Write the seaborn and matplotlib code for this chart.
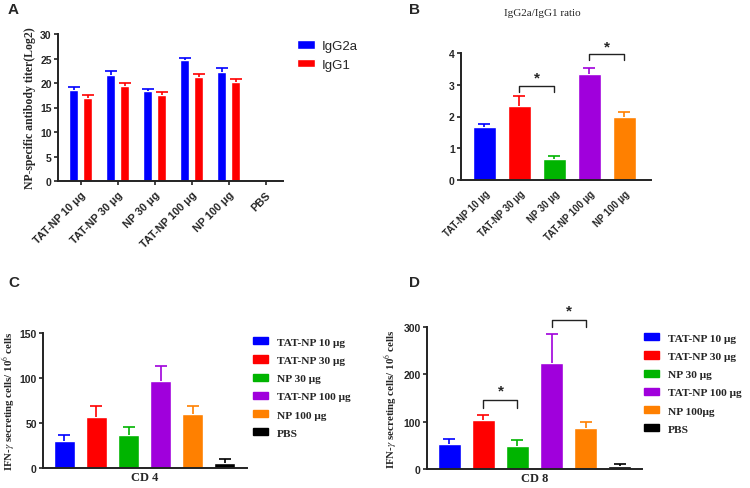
import numpy as np
import pandas as pd
import seaborn as sns
import matplotlib.pyplot as plt
from matplotlib.patches import Patch

# ---- data ----
groups = ["TAT-NP 10 μg", "TAT-NP 30 μg", "NP 30 μg", "TAT-NP 100 μg", "NP 100 μg", "PBS"]
igg2a = [18.5, 21.7, 18.3, 24.6, 22.3, 0]
igg2a_err = [0.7, 0.7, 0.5, 0.5, 0.7, 0]
igg1 = [17.0, 19.3, 17.6, 21.3, 20.3, 0]
igg1_err = [0.6, 0.7, 0.6, 0.5, 0.6, 0]

ratio_groups = groups[:5]
ratio = [1.67, 2.33, 0.65, 3.33, 2.0]
ratio_err = [0.10, 0.32, 0.12, 0.20, 0.15]

cd4 = [30, 57, 37, 97, 60, 6]
cd4_err = [7, 12, 9, 16, 9, 4]
cd8 = [52, 103, 49, 223, 87, 6]
cd8_err = [12, 12, 13, 63, 13, 4]
cd8_labels = ["TAT-NP 10 μg", "TAT-NP 30 μg", "NP 30 μg", "TAT-NP 100 μg", "NP 100μg", "PBS"]

colors = ["#0000ff", "#ff0000", "#00b400", "#a000dc", "#ff8000", "#000000"]

sns.set_style("ticks")
plt.rcParams['font.family'] = ['Liberation Sans', 'DejaVu Sans']
plt.rcParams['mathtext.fontset'] = 'stix'

SERIF = ['Liberation Serif', 'DejaVu Serif']
W, H = 750, 489

fig = plt.figure(figsize=(7.5, 4.89), dpi=100)


def px_axes(left, right, top, bottom):
    return fig.add_axes([left / W, 1 - bottom / H, (right - left) / W, (bottom - top) / H])


def style_axes(ax, xsize=7.5):
    sns.despine(ax=ax)
    for s in ["left", "bottom"]:
        ax.spines[s].set_linewidth(1.4)
        ax.spines[s].set_color("#222222")
    ax.tick_params(axis="both", width=1.2, length=3, labelsize=7.5, pad=1.5, color="#222222")
    ax.tick_params(axis="x", labelsize=xsize, pad=3)
    for lab in ax.get_xticklabels() + ax.get_yticklabels():
        lab.set_fontweight("bold")


def add_errors(ax, container, errs, cols):
    # one-sided (upper) error bars with a cap on top only
    for bar, e, c in zip(container, errs, cols):
        if bar.get_height() <= 0:
            continue
        x = bar.get_x() + bar.get_width() / 2
        top = bar.get_height() + e
        ax.plot([x, x], [bar.get_height(), top], color=c, lw=1.2, solid_capstyle="butt")
        ax.plot([x], [top], marker="_", ms=8, mew=1.2, color=c)


def bracket(ax, i, j, top, low, star_y):
    ax.plot([i, i, j, j], [low, top, top, low], color="#222222", lw=1.0, clip_on=False)
    ax.text((i + j) / 2, star_y, "*", ha="center", va="center", fontsize=11,
            fontweight="bold", clip_on=False)


# ---- A ----
axA = px_axes(58, 283, 35, 182)
df_a = pd.DataFrame({
    "group": groups * 2,
    "titer": igg2a + igg1,
    "isotype": ["IgG2a"] * 6 + ["IgG1"] * 6,
})
sns.barplot(df_a, x="group", y="titer", hue="isotype", order=groups,
            palette=["#0000ff", "#ff0000"], width=0.757, gap=0.33, saturation=1,
            errorbar=None, ax=axA)
add_errors(axA, axA.containers[0], igg2a_err, ["#0000ff"] * 6)
add_errors(axA, axA.containers[1], igg1_err, ["#ff0000"] * 6)
axA.set_xlim(-0.61, 5.47)
axA.set_ylim(0, 30)
axA.set_yticks(range(0, 31, 5))
axA.set_xlabel("")
axA.set_ylabel("NP-specific antibody titer(Log2)", family=SERIF, fontweight="bold", fontsize=8.5, labelpad=3)
axA.set_xticks(range(6))
axA.set_xticklabels(groups, rotation=45, ha="right", va="top", rotation_mode="anchor")
style_axes(axA, xsize=7.8)
h, l = axA.get_legend_handles_labels()
axA.legend(h, l, loc="upper left", bbox_to_anchor=(285 / W, 1 - 29 / H), bbox_transform=fig.transFigure,
           frameon=False, fontsize=9.5, handlelength=1.4, handleheight=0.65, labelspacing=0.5,
           handletextpad=0.5)

# ---- B ----
axB = px_axes(461, 651, 54, 181)
sns.barplot(x=ratio_groups, y=ratio, hue=ratio_groups, palette=colors[:5], width=0.657,
            saturation=1, legend=False, errorbar=None, ax=axB)
add_errors(axB, axB.patches, ratio_err, colors[:5])
axB.set_xlim(-0.67, 4.76)
axB.set_ylim(0, 4)
axB.set_yticks(range(0, 5))
axB.set_xticks(range(5))
axB.set_xticklabels(ratio_groups, rotation=45, ha="right", va="top", rotation_mode="anchor")
style_axes(axB, xsize=6.9)
axB.tick_params(axis="x", length=0, pad=6)
bracket(axB, 1, 2, 2.97, 2.78, 3.22)
bracket(axB, 3, 4, 3.97, 3.78, 4.22)

# ---- C ----
axC = px_axes(43, 247, 334, 469)
sns.barplot(x=groups, y=cd4, hue=groups, palette=colors, width=0.656, saturation=1,
            legend=False, errorbar=None, ax=axC)
add_errors(axC, axC.patches, cd4_err, colors)
axC.set_xlim(-0.67, 5.70)
axC.set_ylim(0, 150)
axC.set_yticks([0, 50, 100, 150])
axC.set_xticks([])
axC.set_xlabel("CD 4", family=SERIF, fontweight="bold", fontsize=9, labelpad=2)
axC.set_ylabel(r"IFN-$\gamma$ secreting cells/ 10$^6$ cells", family=SERIF, fontweight="bold",
               fontsize=7.8, labelpad=2)
style_axes(axC)
axC.legend(handles=[Patch(color=c) for c in colors], labels=groups, loc="upper left",
           bbox_to_anchor=(243 / W, 1 - 328 / H), bbox_transform=fig.transFigure,
           frameon=False, prop={"family": SERIF, "weight": "bold", "size": 8.2},
           handlelength=1.3, handleheight=0.6, labelspacing=0.75, handletextpad=0.75)

# ---- D ----
axD = px_axes(427, 642, 328, 470)
sns.barplot(x=groups, y=cd8, hue=groups, palette=colors, width=0.68, saturation=1,
            legend=False, errorbar=None, ax=axD)
add_errors(axD, axD.patches, cd8_err, colors)
axD.set_xlim(-0.66, 5.66)
axD.set_ylim(0, 300)
axD.set_yticks([0, 100, 200, 300])
axD.set_xticks([])
axD.set_xlabel("CD 8", family=SERIF, fontweight="bold", fontsize=9, labelpad=2)
axD.set_ylabel(r"IFN-$\gamma$ secreting cells/ 10$^6$ cells", family=SERIF, fontweight="bold",
               fontsize=7.8, labelpad=3)
style_axes(axD)
bracket(axD, 1, 2, 146, 129, 165)
bracket(axD, 3, 4, 315, 300, 334)
axD.legend(handles=[Patch(color=c) for c in colors], labels=cd8_labels, loc="upper left",
           bbox_to_anchor=(634 / W, 1 - 324 / H), bbox_transform=fig.transFigure,
           frameon=False, prop={"family": SERIF, "weight": "bold", "size": 8.2},
           handlelength=1.3, handleheight=0.6, labelspacing=0.75, handletextpad=0.75)

# ---- panel letters / title ----
for letter, x, y in [("A", 8, 3), ("B", 409, 3), ("C", 8, 276), ("D", 409, 276)]:
    fig.text(x / W, 1 - y / H, letter, fontsize=11, fontweight="bold", va="top", ha="left")
fig.text(542 / W, 1 - 14 / H, "IgG2a/IgG1 ratio", family=SERIF, fontsize=8, ha="center", va="center")

fig.savefig("out.png", dpi=100)
